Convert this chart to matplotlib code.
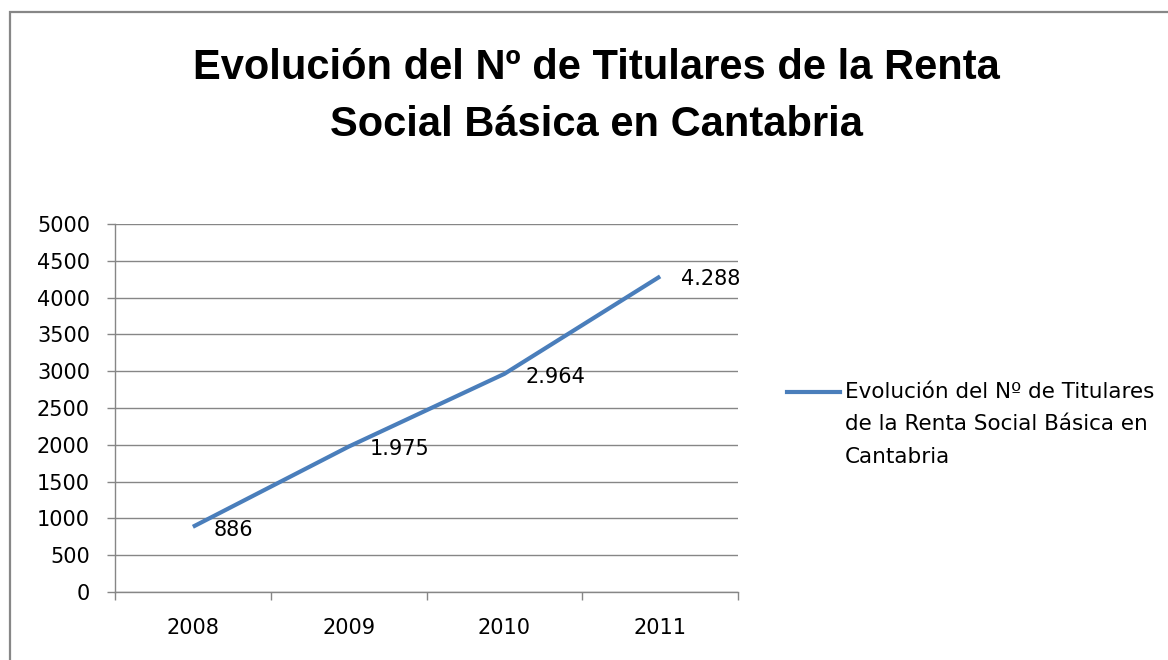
import matplotlib
matplotlib.use("Agg")
import matplotlib.pyplot as plt
from matplotlib.lines import Line2D
from matplotlib.patches import Rectangle
import numpy as np

years = ["2008", "2009", "2010", "2011"]
titulares = [886, 1975, 2964, 4288]
labels = ["886", "1.975", "2.964", "4.288"]
y_ticks = list(range(0, 5001, 500))

title_lines = ["Evolución del Nº de Titulares de la Renta",
               "Social Básica en Cantabria"]
legend_lines = ["Evolución del Nº de Titulares",
                "de la Renta Social Básica en",
                "Cantabria"]

W, H = 1168, 660
fig = plt.figure(figsize=(W / 100, H / 100), dpi=100)
fig.patch.set_facecolor("white")

# outer chart frame (left and top edges visible)
fig.add_artist(Rectangle((10 / W, -0.2), 1.5, (H - 12) / H + 0.2,
                         transform=fig.transFigure, fill=False,
                         edgecolor="#878787", linewidth=1.6, clip_on=False))

ax = fig.add_axes([115 / W, 1 - 592 / H, (738 - 115) / W, (592 - 224) / H])
grey = "#868686"
blue = "#4A7EBB"

x = np.arange(len(years))
ax.plot(x, titulares, color=blue, linewidth=3.0, solid_capstyle="butt")

for xi, yi, lab in zip(x, titulares, labels):
    ax.annotate(lab, (xi, yi), xytext=(15, -2), textcoords="offset points",
                ha="left", va="center", fontsize=15, color="black")

ax.set_xlim(-0.5, len(years) - 0.5)
ax.set_ylim(0, 5000)
ax.set_yticks(y_ticks)
ax.set_yticklabels([str(v) for v in y_ticks])
ax.yaxis.grid(True, color=grey, linewidth=1.0)
ax.set_axisbelow(True)

ax.set_xticks(np.arange(-0.5, len(years), 1.0))
ax.set_xticklabels([])
ax.set_xticks(x, minor=True)
ax.set_xticklabels(years, minor=True)
ax.tick_params(axis="x", which="major", length=6, width=1.0, color=grey, direction="out")
ax.tick_params(axis="x", which="minor", length=0, pad=19, labelsize=15)
ax.tick_params(axis="y", length=6, width=1.0, color=grey, direction="out", pad=12, labelsize=15)

for s in ["top", "right"]:
    ax.spines[s].set_visible(False)
for s in ["left", "bottom"]:
    ax.spines[s].set_color(grey)
    ax.spines[s].set_linewidth(1.0)

for i, (t, yc) in enumerate(zip(title_lines, [68, 125])):
    fig.text(596 / W, 1 - yc / H, t, ha="center", va="center",
             fontsize=30, fontweight="bold", family="Liberation Sans")

# legend
ly = 1 - 392 / H
fig.add_artist(Line2D([787 / W, 840 / W], [ly, ly], transform=fig.transFigure,
                      color=blue, linewidth=3.0))
for i, t in enumerate(legend_lines):
    fig.text(845 / W, 1 - (392 + 32.5 * i) / H, t, ha="left", va="center",
             fontsize=15.5, color="black")

fig.savefig("out.png", dpi=100)
